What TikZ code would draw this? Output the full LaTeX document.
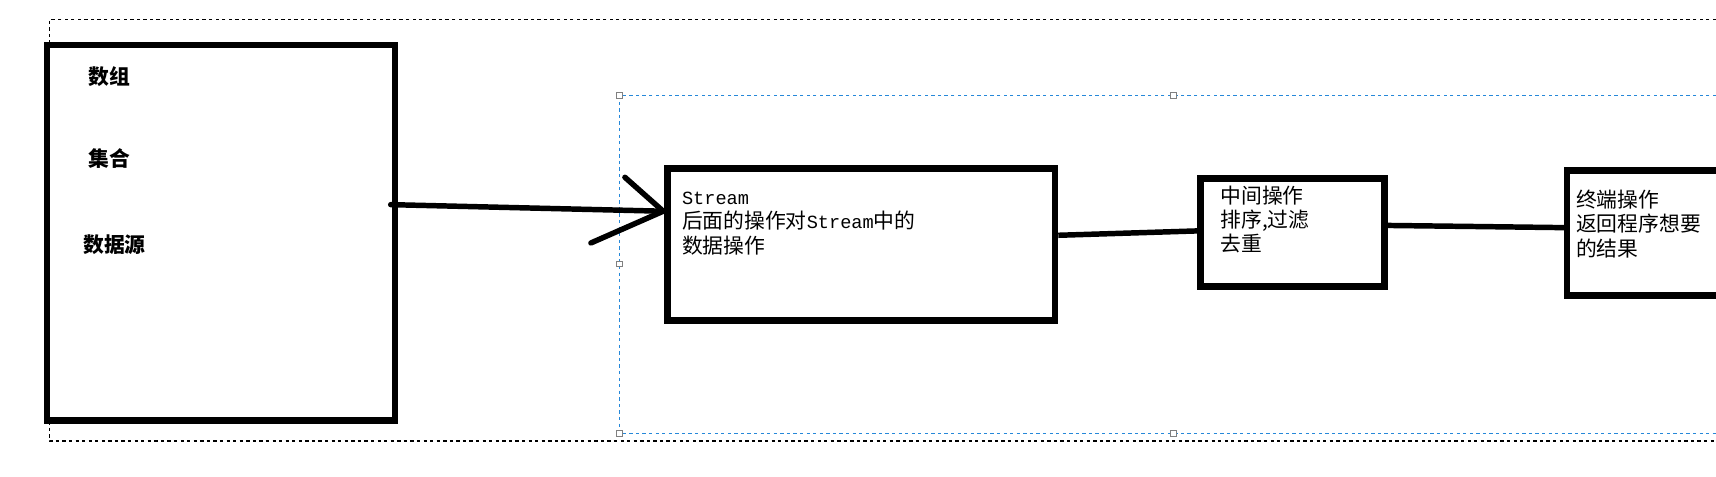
\documentclass[tikz,border=0pt]{standalone}
\usepackage{fontspec}
\setmainfont{Noto Sans CJK SC}
\newfontfamily\cjk{Noto Sans CJK SC}
\newfontfamily\monof{Liberation Mono}
\begin{document}
\begin{tikzpicture}[x=1pt,y=-1pt,
  box/.style={draw,line width=6pt,inner sep=0pt,anchor=north west},
  lbl/.style={anchor=north west,inner sep=0pt,align=left,font=\cjk\fontsize{19}{22.5}\selectfont},
  conn/.style={line width=5pt},
  handle/.style={draw=gray,fill=white,line width=0.6pt,minimum size=5pt,inner sep=0pt}]
\useasboundingbox (0,0) rectangle (1568,435);
% dashed frames
\draw[dashed,line width=1pt] (1568,18) -- (45,18) -- (45,403) -- (1568,403);
\draw[dashed,draw=blue!45!cyan!70!gray,line width=1pt] (1568,87) -- (566,87) -- (566,396) -- (1568,396);
\foreach \p/\n in {{(566,87)}/h1,{(1072,87)}/h2,{(566,241)}/h3,{(566,396)}/h4,{(1072,396)}/h5}
  \node[handle] (\n) at \p {};
% boxes
\node[box,minimum width=318pt,minimum height=343pt] (src) at (40,38) {};
\node[box,minimum width=354pt,minimum height=139pt] (st) at (607,151) {};
\node[box,minimum width=168pt,minimum height=99pt] (mid) at (1094,160) {};
\node[box,minimum width=300pt,minimum height=114pt] (ter) at (1429,153) {};
% texts
\node[lbl,font=\cjk\bfseries\fontsize{19}{20}\selectfont] (t1) at (81,61) {数组};
\node[lbl,font=\cjk\bfseries\fontsize{19}{20}\selectfont] (t2) at (81,136) {集合};
\node[lbl,font=\cjk\bfseries\fontsize{19}{20}\selectfont] (t3) at (76,214) {数据源};
\node[lbl,font=\cjk\fontsize{19}{22.5}\selectfont] (st1) at (623,175) {{\monof\fontsize{17}{20}\selectfont Stream}\\后面的操作对{\monof\fontsize{17}{20}\selectfont Stream}中的\\数据操作};
\node[lbl,font=\cjk\fontsize{19}{22}\selectfont] (m1) at (1115,170) {中间操作\\排序,过滤\\去重};
\begin{scope}
\clip (0,0) rectangle (1566,435);
\node[lbl,font=\cjk\fontsize{19}{22.5}\selectfont] (e1) at (1440,173) {终端操作\\返回程序想要\\的结果};
\end{scope}
% connectors
\coordinate (aa) at (357,187);
\coordinate (tip) at (606,193);
\coordinate (w1) at (571,162);
\coordinate (w2) at (540,222);
\draw[conn,line cap=round] (aa) -- (440,189) -- (tip);
\draw[conn,line cap=round] (w1) -- (tip) -- (w2);
\draw[conn] (st.east |- 0,215) -- (mid.west |- 0,211);
\draw[conn] (mid.east |- 0,206) -- (1350,207) -- (ter.west |- 0,208);
\end{tikzpicture}
\end{document}
